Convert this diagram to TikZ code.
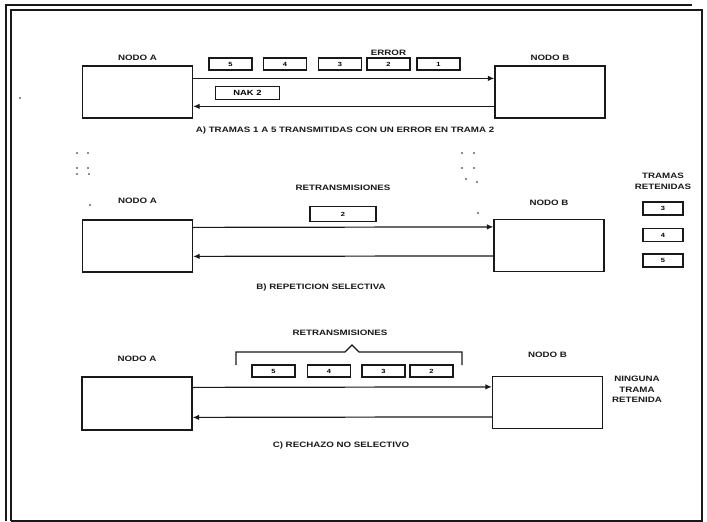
\documentclass[tikz,border=0pt]{standalone}
\usepackage{fontspec}
\setmainfont{Liberation Sans}[FakeStretch=1.25]
\usetikzlibrary{arrows.meta,positioning}
\definecolor{arqink}{RGB}{25,25,25}
\tikzset{
  arqnodo/.style={draw=arqink, line width=1.2pt, minimum width=110pt, minimum height=52pt, inner sep=0pt},
  arqtrama/.style={draw=arqink, line width=1.2pt, minimum width=43pt, minimum height=12pt, inner sep=0pt, font=\fontsize{6}{7}\selectfont\bfseries},
  arqlabel/.style={font=\fontsize{7.8}{10.5}\selectfont\bfseries, inner sep=1pt, align=center, text=arqink},
  arqarr/.style={-{Latex[length=6.5pt,width=5.5pt]}, line width=1.2pt, draw=arqink},
  arqline/.style={line width=1.2pt, draw=arqink},
  arqdot/.style={fill=arqink, circle, inner sep=0pt, minimum size=1.8pt}
}
\begin{document}
\begin{tikzpicture}[x=1pt, y=-1pt]
  \useasboundingbox (0,0) rectangle (707,522);
  % marco
  \draw[arqline] (6,521) -- (6,5) -- (692,5);
  \draw[arqline] (11,521) -- (11,10) -- (702,10) -- (702,521) -- (11,521);

  % A) tramas 1 a 5
  \node[arqnodo] (aA) at (137.5,92) {};
  \node[arqnodo] (aB) at (550,92) {};
  \node[arqlabel, above=4pt of aA] {NODO A};
  \node[arqlabel, above=4pt of aB] {NODO B};
  \node[arqtrama] (a5) at (230.5,64) {5};
  \node[arqtrama] (a4) at (285,64) {4};
  \node[arqtrama] (a3) at (340,64) {3};
  \node[arqtrama] (a2) at (388.5,64) {2};
  \node[arqtrama] (a1) at (438.5,64) {1};
  \node[arqlabel, above=1pt of a2] {ERROR};
  \node[arqtrama, minimum width=64pt, minimum height=13pt, font=\fontsize{7.5}{8}\selectfont\bfseries] (anak) at (247.5,93) {NAK 2};
  \draw[arqarr] ([yshift=-13pt]aA.north east) -- ([yshift=-13pt]aB.north west);
  \draw[arqarr] ([yshift=-41pt]aB.north west) -- ([yshift=-41pt]aA.north east);
  \node[arqlabel] (acap) at (345,130) {A) TRAMAS 1 A 5 TRANSMITIDAS CON UN ERROR EN TRAMA 2};

  % puntos
  \foreach \px/\py in {77/153, 88/153, 77/168, 88/168, 77/174, 89/174, 90/205,
                       462/153, 474/153, 462/168, 474/168, 466/179, 477/182, 478/213, 20/98}
    \node[arqdot] at (\px,\py) {};

  % B) repeticion selectiva
  \node[arqnodo] (bA) at (137.5,246) {};
  \node[arqnodo] (bB) at (549,245.5) {};
  \node[arqlabel, above=15pt of bA] {NODO A};
  \node[arqlabel, above=12pt of bB] {NODO B};
  \node[arqtrama, minimum width=66pt, minimum height=15pt] (b2) at (343,214) {2};
  \node[arqlabel, above=14pt of b2] {RETRANSMISIONES};
  \draw[arqarr] ([yshift=-8pt]bA.north east) -- ([yshift=-8pt]bB.north west);
  \draw[arqarr] ([yshift=-37pt]bB.north west) -- ([yshift=-37pt]bA.north east);
  \node[arqtrama, minimum width=40pt, minimum height=13pt] (r3) at (663,208.5) {3};
  \node[arqtrama, minimum width=40pt, minimum height=13pt] (r4) at (663,235) {4};
  \node[arqtrama, minimum width=40pt, minimum height=13pt] (r5) at (663,260.5) {5};
  \node[arqlabel, above=11pt of r3] {TRAMAS\\RETENIDAS};
  \node[arqlabel] (bcap) at (321,287) {B) REPETICION SELECTIVA};

  % C) rechazo no selectivo
  \node[arqnodo, minimum height=53pt] (cA) at (137,403.5) {};
  \node[arqnodo] (cB) at (547.5,402.5) {};
  \node[arqlabel, above=14pt of cA] {NODO A};
  \node[arqlabel, above=17pt of cB] {NODO B};
  \node[arqtrama] (c5) at (273.5,371) {5};
  \node[arqtrama] (c4) at (329,371) {4};
  \node[arqtrama] (c3) at (383.5,371) {3};
  \node[arqtrama] (c2) at (431.5,371) {2};
  \coordinate (cbl) at (236,365);
  \coordinate (cbr) at (462,365);
  \draw[arqline] (cbl) -- (236,352) -- (345,352) -- (352,345) -- (359,352) -- (462,352) -- (cbr);
  \node[arqlabel] (cret) at (340,333) {RETRANSMISIONES};
  \draw[arqarr] ([yshift=-11pt]cA.north east) -- ([yshift=-11pt]cB.north west);
  \draw[arqarr] ([yshift=-41pt]cB.north west) -- ([yshift=-41pt]cA.north east);
  \node[arqlabel, anchor=north] (cnin) at (637,375) {NINGUNA\\TRAMA\\RETENIDA};
  \node[arqlabel] (ccap) at (341,445) {C) RECHAZO NO SELECTIVO};
\end{tikzpicture}
\end{document}
